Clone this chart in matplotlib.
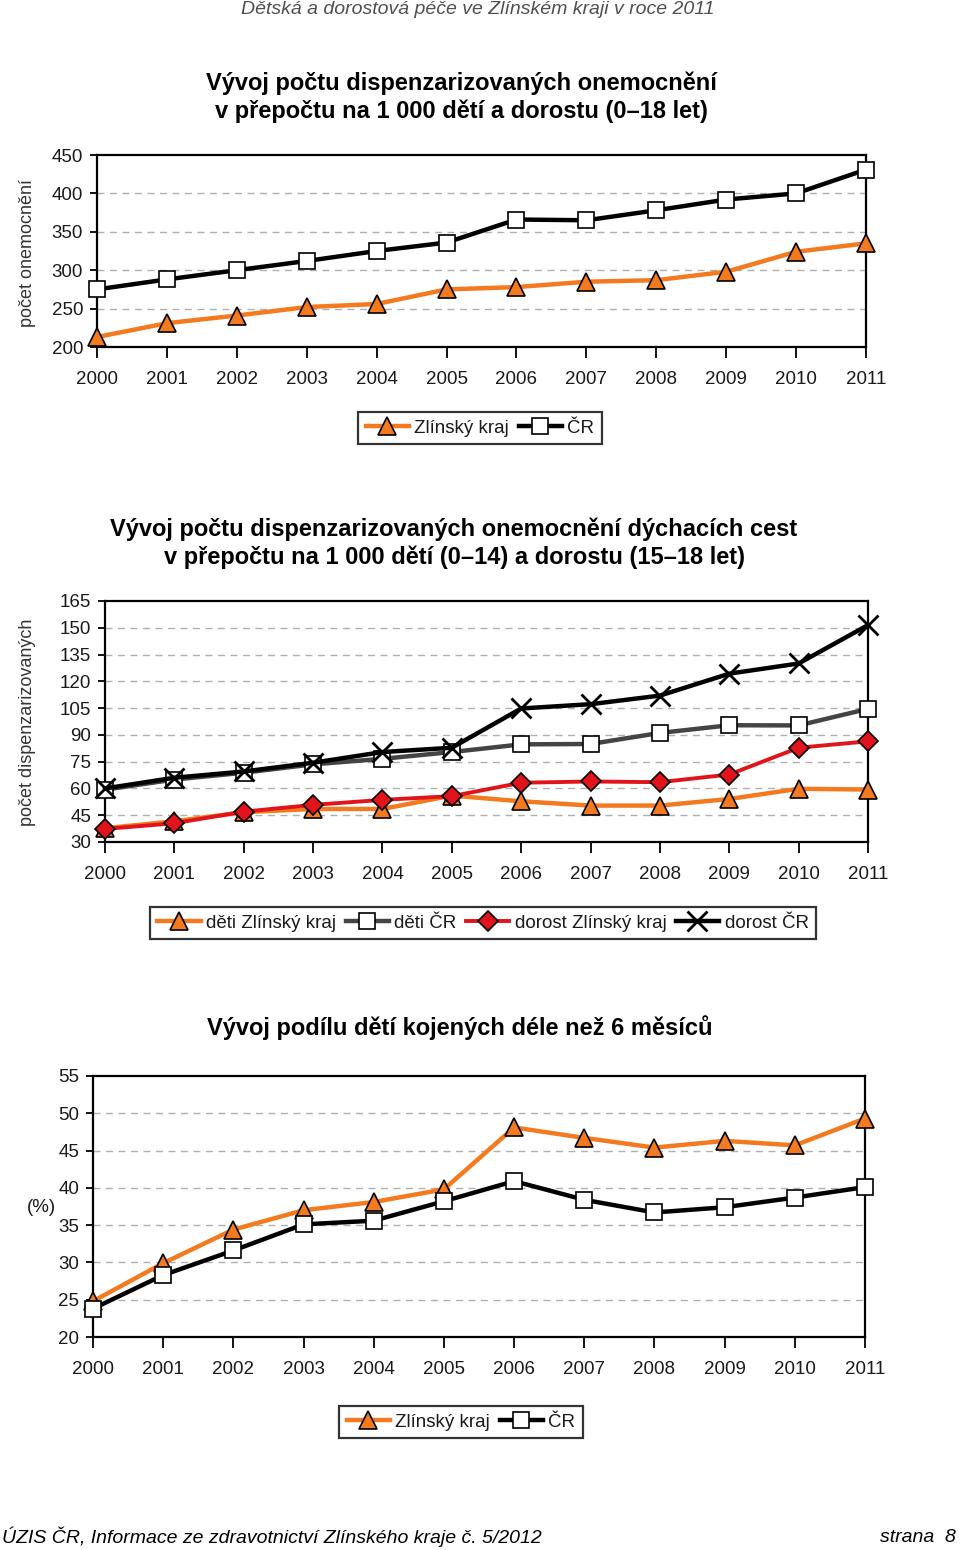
#!/usr/bin/env python3
"""Dispenzarizovaná onemocnění a kojení - Zlínský kraj 2000-2011."""

import matplotlib
matplotlib.use("Agg")
import matplotlib.pyplot as plt
from matplotlib import rcParams

rcParams.update({
    "font.family": ["Liberation Sans", "DejaVu Sans"],
    "font.size": 13,
    "axes.linewidth": 1.6,
})

YEARS = [2000, 2001, 2002, 2003, 2004, 2005, 2006, 2007, 2008, 2009, 2010, 2011]

# graf 1: dispenzarizovaná onemocnění na 1 000 dětí a dorostu
G1_ZLIN = [213, 231, 241, 252, 256, 275, 278, 285, 287, 298, 324, 335]
G1_CR = [275, 288, 300, 312, 325, 336, 366, 365, 378, 392, 400, 431]

# graf 2: onemocnění dýchacích cest
G2_DETI_ZLIN = [37.7, 41.6, 46.7, 48.5, 48.5, 56.0, 52.8, 50.4, 50.4, 54.1, 59.8, 59.4]
G2_DETI_CR = [59.3, 65.0, 68.8, 73.5, 76.6, 80.4, 84.7, 84.9, 91.1, 95.4, 95.3, 104.6]
G2_DOR_ZLIN = [37.3, 40.5, 47.0, 50.8, 53.6, 55.7, 63.2, 63.9, 63.5, 67.8, 82.8, 86.4]
G2_DOR_CR = [60.0, 66.0, 69.5, 74.4, 80.4, 82.8, 104.8, 107.2, 112.0, 124.3, 130.0, 151.5]

# graf 3: podíl dětí kojených déle než 6 měsíců (%)
G3_ZLIN = [24.8, 29.9, 34.4, 37.0, 38.1, 39.8, 48.1, 46.7, 45.4, 46.3, 45.7, 49.3]
G3_CR = [23.8, 28.3, 31.6, 35.1, 35.6, 38.2, 40.9, 38.4, 36.7, 37.4, 38.7, 40.1]

ORANGE = "#F37A1F"
RED = "#E2141B"
GREY = "#444444"
TXT = "#1a1a1a"

W, H = 960, 1550


def fx(px):
    return px / W


def fy(py):
    return 1 - py / H


def make_axes(fig, left, right, top, bottom, ylim, ystep):
    ax = fig.add_axes([fx(left), fy(bottom), fx(right - left), (bottom - top) / H])
    ax.set_xlim(YEARS[0], YEARS[-1])
    ax.set_ylim(*ylim)
    yt = list(range(ylim[0], ylim[1] + 1, ystep))
    ax.set_yticks(yt)
    ax.set_xticks(YEARS)
    ax.tick_params(axis="x", direction="out", length=8, width=1.3, pad=9,
                   labelsize=13.5, labelcolor=TXT)
    ax.tick_params(axis="y", direction="out", length=5, width=1.3, pad=5,
                   labelsize=13.5, labelcolor=TXT)
    for y in yt[1:-1]:
        ax.axhline(y, color="#b0b0b0", lw=1.0, ls=(0, (5, 4)), zorder=0)
    for s in ax.spines.values():
        s.set_color("black")
    return ax


def line(ax, y, color, marker, ms, mfc, lw=3.2, mew=1.2):
    return ax.plot(YEARS, y, color=color, lw=lw, marker=marker, ms=ms,
                   mfc=mfc, mec="black", mew=mew, clip_on=False, zorder=3)[0]


def legend(fig, handles, labels, cx, cy):
    lg = fig.legend(handles, labels, loc="center",
                    bbox_to_anchor=(fx(cx), fy(cy)), ncol=len(handles),
                    frameon=True, fancybox=False, fontsize=13.5,
                    handlelength=2.3, handletextpad=0.3, columnspacing=0.5,
                    borderpad=0.4, labelcolor=TXT)
    fr = lg.get_frame()
    fr.set_edgecolor("black")
    fr.set_linewidth(1.6)
    return lg


fig = plt.figure(figsize=(W / 100, H / 100), dpi=100)

fig.text(fx(478), fy(10), "Dětská a dorostová péče ve Zlínském kraji v roce 2011",
         ha="center", va="center", fontsize=14, style="italic", color="#505050")

# --- graf 1 ---
fig.text(fx(461), fy(97), "Vývoj počtu dispenzarizovaných onemocnění\n"
         "v přepočtu na 1 000 dětí a dorostu (0–18 let)",
         ha="center", va="center", fontsize=17, fontweight="bold",
         linespacing=1.25)
ax1 = make_axes(fig, 97, 866, 155, 347, (200, 450), 50)
fig.text(fx(28), fy(253), "počet onemocnění", rotation=90, ha="center",
         va="center", fontsize=13, color="#333333")
h1 = line(ax1, G1_ZLIN, ORANGE, "^", 13, ORANGE)
h2 = line(ax1, G1_CR, "black", "s", 12, "white")
legend(fig, [h1, h2], ["Zlínský kraj", "ČR"], 480, 428)

# --- graf 2 ---
fig.text(fx(454), fy(543), "Vývoj počtu dispenzarizovaných onemocnění dýchacích cest\n"
         "v přepočtu na 1 000 dětí (0–14) a dorostu (15–18 let)",
         ha="center", va="center", fontsize=17, fontweight="bold",
         linespacing=1.25)
ax2 = make_axes(fig, 105, 868, 601, 842, (30, 165), 15)
fig.text(fx(28), fy(722), "počet dispenzarizovaných", rotation=90, ha="center",
         va="center", fontsize=13, color="#333333")
k1 = line(ax2, G2_DETI_ZLIN, ORANGE, "^", 13, ORANGE)
k2 = line(ax2, G2_DETI_CR, GREY, "s", 12, "white")
k3 = line(ax2, G2_DOR_ZLIN, RED, "D", 10, RED, lw=2.8)
k4 = line(ax2, G2_DOR_CR, "black", "x", 15, "black", mew=2.0)
legend(fig, [k1, k2, k3, k4],
       ["děti Zlínský kraj", "děti ČR", "dorost Zlínský kraj", "dorost ČR"],
       483, 923)

# --- graf 3 ---
fig.text(fx(460), fy(1028), "Vývoj podílu dětí kojených déle než 6 měsíců",
         ha="center", va="center", fontsize=17, fontweight="bold")
ax3 = make_axes(fig, 93, 865, 1076, 1337, (20, 55), 5)
fig.text(fx(41), fy(1207), "(%)", ha="center", va="center", fontsize=13.5,
         color=TXT)
m1 = line(ax3, G3_ZLIN, ORANGE, "^", 13, ORANGE)
m2 = line(ax3, G3_CR, "black", "s", 12, "white")
legend(fig, [m1, m2], ["Zlínský kraj", "ČR"], 461, 1422)

# zápatí
fig.text(fx(2), fy(1537), "ÚZIS ČR, Informace ze zdravotnictví Zlínského kraje č. 5/2012",
         ha="left", va="center", fontsize=14, style="italic")
fig.text(fx(956), fy(1537), "strana  8", ha="right", va="center",
         fontsize=14, style="italic")

fig.savefig("out.png", dpi=100)
